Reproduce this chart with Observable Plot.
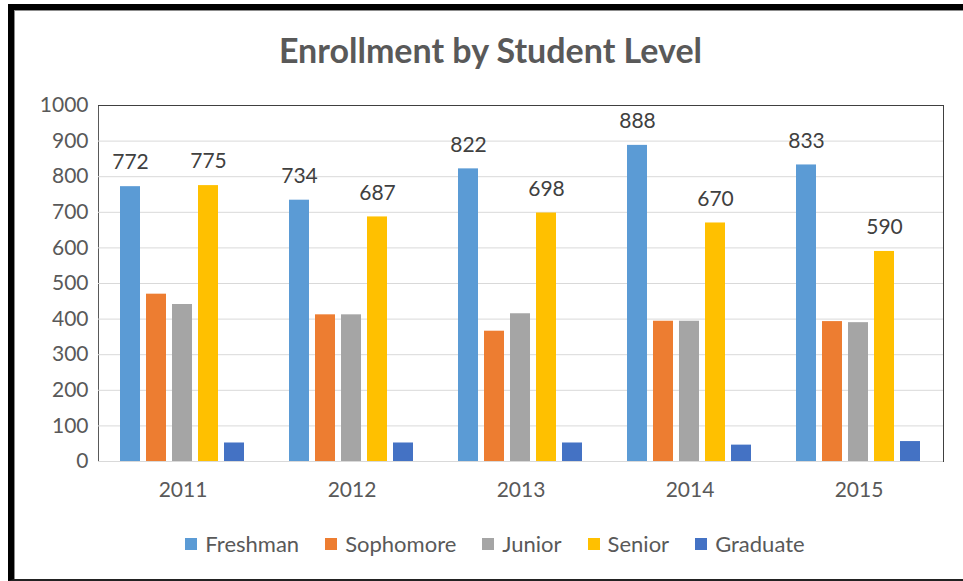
<!DOCTYPE html>
<html><head><meta charset="utf-8">
<script src="https://cdn.jsdelivr.net/npm/d3@7"></script>
<script src="https://cdn.jsdelivr.net/npm/@observablehq/plot@0.6"></script>
<style>
body{margin:0;background:#fff;font-family:Lato,sans-serif;}
#wrap{position:relative;width:963px;height:581px;overflow:hidden;background:#fff;}
#border{position:absolute;left:8px;top:4px;width:955px;height:577px;box-sizing:border-box;border-left:6px solid #000;border-top:6px solid #000;border-bottom:2px solid #222;box-shadow:inset 1px 1px 0 #8c8c8c;}
#title{position:absolute;left:0;top:29px;width:981px;text-align:center;font-weight:700;font-size:34px;line-height:42px;color:#595959;}
#chart{position:absolute;left:0;top:90px;}
#legend{position:absolute;left:0;top:532px;width:990px;display:flex;justify-content:center;gap:26px;font-size:22px;line-height:24px;color:#595959;}
#legend .item{display:flex;align-items:center;gap:8px;}
#legend .sw{width:12px;height:12px;display:inline-block;}
</style></head><body>
<div id="wrap">
<div id="border"></div>
<div id="title">Enrollment by Student Level</div>
<div id="chart"></div>
<div id="legend"></div>
</div>
<script>
const years = ["2011","2012","2013","2014","2015"];
const levels = ["Freshman","Sophomore","Junior","Senior","Graduate"];
const freshman = [772,734,822,888,833];
const sophomore = [470,412,366,394,393];
const junior = [441,412,415,394,390];
const senior = [775,687,698,670,590];
const graduate = [52,52,52,46,56];
const colors = ["#5B9BD5","#ED7D31","#A5A5A5","#FFC000","#4472C4"];
const yTicks = [0,100,200,300,400,500,600,700,800,900,1000];
const labeled = ["Freshman","Senior"];

const series = [freshman, sophomore, junior, senior, graduate];
const data = years.flatMap((yr,i)=> levels.map((lv,j)=>({year:yr, level:lv, value:series[j][i]})));

const chart = Plot.plot({
  width:963, height:420, marginTop:15, marginBottom:49, marginLeft:98, marginRight:20,
  style:{fontFamily:"Lato, sans-serif", fontSize:"21px", color:"#595959", background:"transparent"},
  fx:{domain:years, padding:0, label:null, axis:"bottom", tickSize:0, tickPadding:21},
  x:{domain:levels, axis:null, paddingInner:0.23, paddingOuter:0.865},
  y:{domain:[0,1000], ticks:yTicks, tickFormat:d=>String(d), label:null, tickSize:0, tickPadding:10, line:true},
  color:{domain:levels, range:colors},
  marks:[
    Plot.gridY(yTicks, {stroke:"#d9d9d9", strokeOpacity:1}),
    Plot.barY(data, {fx:"year", x:"level", y:"value", fill:"level"}),
    Plot.ruleY([0], {stroke:"#d9d9d9"}),
    Plot.ruleY([1000], {stroke:"#404040"}),
    Plot.frame({anchor:"right", facetAnchor:"right", stroke:"#404040"}),
    Plot.text(data.filter(d=>labeled.includes(d.level)), {fx:"year", x:"level", y:"value", text:"value", dy:-24, fill:"#404040", fontSize:21})
  ]
});
document.getElementById("chart").appendChild(chart);

const legend = document.getElementById("legend");
levels.forEach((lv,i)=>{
  const it = document.createElement("div"); it.className="item";
  const sw = document.createElement("span"); sw.className="sw"; sw.style.background=colors[i];
  const tx = document.createElement("span"); tx.textContent=lv;
  it.appendChild(sw); it.appendChild(tx); legend.appendChild(it);
});
</script>
</body></html>
